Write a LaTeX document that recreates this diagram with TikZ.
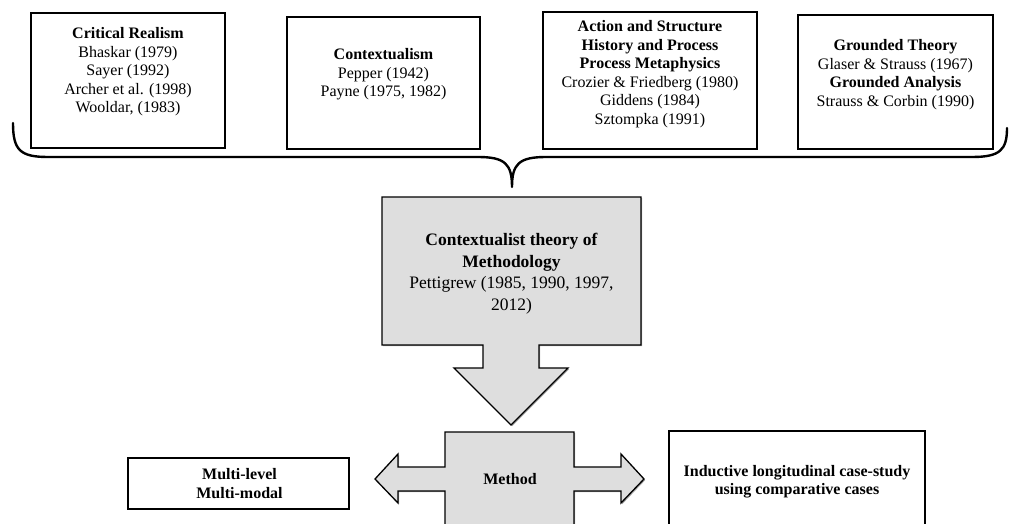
\documentclass[tikz,border=0pt]{standalone}
\usepackage{fontspec}
\setmainfont{Liberation Serif}
\usetikzlibrary{shadows}
\definecolor{calloutgray}{HTML}{DEDEDE}
\begin{document}
\begin{tikzpicture}[x=1pt,y=-1pt,
  boxshadow/.style={drop shadow={shadow xshift=1.2pt,shadow yshift=-1.2pt,opacity=0.35,fill=black}},
  framebox/.style={draw=black,line width=1.3pt,fill=white,boxshadow},
  calloutshape/.style={draw=black,line width=1.3pt,fill=calloutgray,boxshadow,line join=miter},
  txt/.style={align=center,font=\fontsize{16}{18.5}\selectfont,inner sep=0pt},
  bigtxt/.style={align=center,font=\fontsize{17.5}{21.5}\selectfont,inner sep=0pt},
  bracepath/.style={draw=black,line width=2.4pt,line cap=round,line join=round}]
\clip (0,0) rectangle (1009,524);
\fill[white] (0,0) rectangle (1009,524);

% top boxes
\draw[framebox] (31,13) rectangle (225,148);
\node[txt] (b1) at (128,72) {\textbf{Critical Realism}\\Bhaskar (1979)\\Sayer (1992)\\Archer et al. (1998)\\Wooldar, (1983)};

\draw[framebox] (287,17) rectangle (480,149);
\node[txt] (b2) at (383.5,74.5) {\textbf{Contextualism}\\Pepper (1942)\\Payne (1975, 1982)};

\draw[framebox] (543,12) rectangle (757,149);
\node[txt] (b3) at (650,74) {\textbf{Action and Structure}\\\textbf{History and Process}\\\textbf{Process Metaphysics}\\Crozier \& Friedberg (1980)\\Giddens (1984)\\Sztompka (1991)};

\draw[framebox] (798,15) rectangle (993,149);
\node[txt] (b4) at (895.5,74.5) {\textbf{Grounded Theory}\\Glaser \& Strauss (1967)\\\textbf{Grounded Analysis}\\Strauss \& Corbin (1990)};

% brace
\coordinate (bl) at (13,123);
\coordinate (tip) at (512,187);
\coordinate (br) at (1007,128);
\draw[bracepath] (bl) .. controls (13,150) and (20,157) .. (48,157) -- (478,157)
  .. controls (505,157) and (512,164) .. (tip)
  .. controls (512,164) and (519,157) .. (546,157) -- (972,157)
  .. controls (1000,157) and (1007,150) .. (br);

% central down callout
\draw[calloutshape] (382,197) -- (641,197) -- (641,345) -- (539,345) -- (539,368) -- (568,368)
  -- (511,425) -- (454,368) -- (483,368) -- (483,345) -- (382,345) -- cycle;
\node[bigtxt] (ctm) at (511.5,273.5) {\textbf{Contextualist theory of}\\\textbf{Methodology}\\Pettigrew (1985, 1990, 1997,\\2012)};

% left-right callout
\draw[calloutshape] (445,432) -- (574,432) -- (574,467) -- (621,467) -- (621,454) -- (644,479)
  -- (621,503) -- (621,491) -- (574,491) -- (574,530) -- (445,530) -- (445,491) -- (398,491)
  -- (398,503) -- (375,479) -- (398,454) -- (398,467) -- (445,467) -- cycle;
\node[txt] (meth) at (510,479) {\textbf{Method}};

% bottom boxes
\draw[framebox] (128,458) rectangle (349,509);
\node[txt] (ml) at (239.5,483.5) {\textbf{Multi-level}\\\textbf{Multi-modal}};

\draw[framebox] (669,431) rectangle (925,530);
\node[txt] (ind) at (797,481.5) {\textbf{Inductive longitudinal case-study}\\\textbf{using comparative cases}};
\end{tikzpicture}
\end{document}
